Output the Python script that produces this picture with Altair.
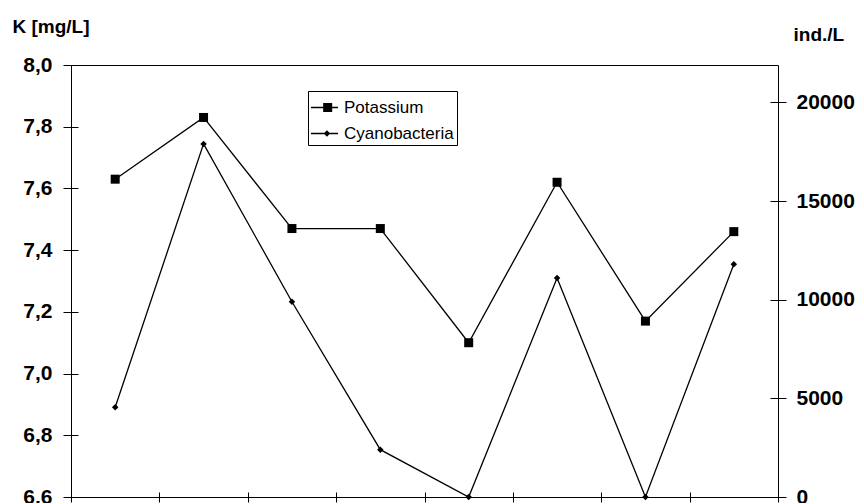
import altair as alt
import pandas as pd

# ---- data ----
samples = [1, 2, 3, 4, 5, 6, 7, 8]
potassium = [7.63, 7.83, 7.47, 7.47, 7.10, 7.62, 7.17, 7.46]
cyanobacteria = [4550, 17900, 9900, 2400, 0, 11100, 0, 11800]
series_names = ["Potassium", "Cyanobacteria"]
k_ticks = [6.6, 6.8, 7.0, 7.2, 7.4, 7.6, 7.8, 8.0]
ind_ticks = [0, 5000, 10000, 15000, 20000]
x_ticks = [0.5, 1.5, 2.5, 3.5, 4.5, 5.5, 6.5, 7.5, 8.5]

df = pd.DataFrame({"sample": samples, "K": potassium, "ind": cyanobacteria})
leg_df = pd.DataFrame({"series": series_names})

FONT = "Liberation Sans"

x = alt.X(
    "sample:Q",
    scale=alt.Scale(domain=[0.5, 8.5], nice=False, zero=False),
    axis=alt.Axis(values=x_ticks, labels=False, title=None, grid=False,
                  domain=False, tickSize=10, offset=-5, tickColor="black"),
)

yK = alt.Y(
    "K:Q",
    scale=alt.Scale(domain=[6.6, 8.0], nice=False, zero=False),
    axis=alt.Axis(
        values=k_ticks,
        labelExpr="replace(format(datum.value, '.1f'), '.', ',')",
        title="K [mg/L]", titleAngle=0, titleAlign="left", titleBaseline="alphabetic",
        titleX=-66, titleY=-33, titleFont=FONT, titleFontSize=19, titleFontWeight="bold",
        titleColor="black",
        labelFont=FONT, labelFontSize=21, labelFontWeight="bold", labelColor="black",
        labelPadding=11, labelFlush=False, labelOverlap=False,
        tickSize=15, offset=-7, domain=False, grid=False, tickColor="black",
    ),
)

yI = alt.Y(
    "ind:Q",
    scale=alt.Scale(domain=[0, 21900], nice=False),
    axis=alt.Axis(
        orient="right", values=ind_ticks, format="d",
        title="ind./L", titleAngle=0, titleAlign="left", titleBaseline="alphabetic",
        titleX=23, titleY=-25, titleFont=FONT, titleFontSize=19, titleFontWeight="bold",
        titleColor="black",
        labelFont=FONT, labelFontSize=21, labelFontWeight="bold", labelColor="black",
        labelPadding=10, labelFlush=False, labelOverlap=False,
        tickSize=16, offset=-8, domain=False, grid=False, tickColor="black",
    ),
)

line_k = alt.Chart(df).mark_line(color="black", strokeWidth=1.3).encode(x=x, y=yK)
pts_k = alt.Chart(df).mark_point(shape="square", filled=True, color="black",
                                 size=81, opacity=1).encode(x=x, y=yK)
line_c = alt.Chart(df).mark_line(color="black", strokeWidth=1.3).encode(x=x, y=yI)
pts_c = alt.Chart(df).mark_point(shape="diamond", filled=True, color="black",
                                 size=42, opacity=1).encode(x=x, y=yI)

# legend symbols: a thin bar (the line) plus the marker, all filled
path_sq = "M-1,-0.048H1V0.048H-1ZM-0.1,-0.33H0.57V0.33H-0.1Z"
path_di = "M-1,-0.048H1V0.048H-1ZM0.18,-0.24L0.42,0L0.18,0.24L-0.06,0Z"

legend_layer = alt.Chart(leg_df).mark_point(
    filled=True, color="black", opacity=0
).encode(
    shape=alt.Shape(
        "series:N",
        scale=alt.Scale(domain=series_names, range=[path_sq, path_di]),
        legend=alt.Legend(
            title=None, orient="none", legendX=237, legendY=26,
            symbolSize=729, symbolFillColor="black", symbolStrokeColor="black",
            symbolStrokeWidth=0, symbolOpacity=1,
            labelFont=FONT, labelFontSize=17, labelColor="black", labelOffset=6,
            padding=3, rowPadding=4, strokeColor="black", fillColor="white",
        ),
    )
)

left = alt.layer(line_k, pts_k)
right = alt.layer(line_c, pts_c)

chart = alt.layer(left, right, legend_layer).resolve_scale(y="independent").properties(
    width=707, height=432,
    padding={"left": 63, "top": 57, "right": 78, "bottom": 6},
    autosize=alt.AutoSizeParams(type="none"),
    background="white",
).configure_view(stroke="black", strokeWidth=1)

chart.save("out.html", embed_options={"renderer": "svg", "actions": False})
